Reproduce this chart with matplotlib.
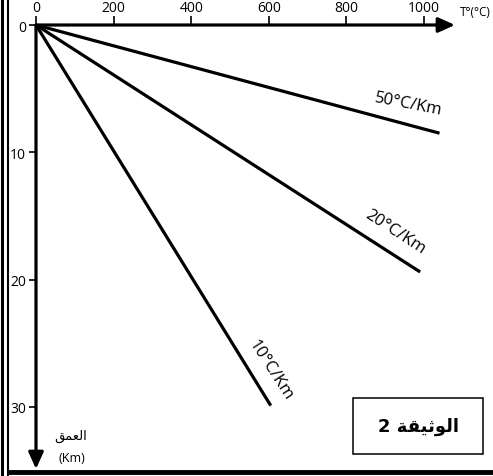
import matplotlib
matplotlib.use("Agg")
import matplotlib.pyplot as plt
from matplotlib.lines import Line2D
from matplotlib.patches import Rectangle

W, H = 493, 477
DPI = 100

# geothermal gradient lines: label, end temperature (°C), end depth (km)
gradients = ["50°C/Km", "20°C/Km", "10°C/Km"]
end_temp = [1040, 990, 605]
end_depth = [8.5, 19.4, 29.9]

# label placement (temperature, depth, rotation)
label_temp = [960, 925, 605]
label_depth = [6.2, 16.2, 27.1]
label_rot = [-11, -33, -57]

x_ticks = [0, 200, 400, 600, 800, 1000]
y_ticks = [0, 10, 20, 30]

x_title = "T°(°C)"
# Arabic written in presentation forms, visual order
y_title = "\uFED6\uFEE4\uFECC\uFEDF\uFE8D"
doc_title = "2 \uFE94\uFED8\uFEF4\uFE9B\uFEEE\uFEDF\uFE8D"

FONT = ["Open Sans", "DejaVu Sans"]
LW = 2.3

# pixel geometry of the plotting area
X0, Y0 = 36, 26          # origin
X_END, Y_END = 455, 470  # arrow tips
PX_PER_C = 0.388
PX_PER_KM = 12.73

xmax = (X_END - X0) / PX_PER_C
ymax = (Y_END - Y0) / PX_PER_KM

fig = plt.figure(figsize=(W / DPI, H / DPI), dpi=DPI)
ax = fig.add_axes([X0 / W, 1 - Y_END / H, (X_END - X0) / W, (Y_END - Y0) / H])
ax.set_xlim(0, xmax)
ax.set_ylim(ymax, 0)
ax.patch.set_alpha(0)
for s in ax.spines.values():
    s.set_visible(False)

# axes drawn as arrows
arrow = dict(arrowstyle="-|>,head_length=1.0,head_width=0.45", lw=LW, color="black",
             shrinkA=0, shrinkB=0)
ax.annotate("", xy=(xmax, 0), xytext=(0, 0), arrowprops=arrow, annotation_clip=False)
ax.annotate("", xy=(0, ymax), xytext=(0, 0), arrowprops=arrow, annotation_clip=False)

ax.xaxis.tick_top()
ax.set_xticks(x_ticks)
ax.set_xticklabels([str(v) for v in x_ticks], fontsize=10, family=FONT)
ax.set_yticks(y_ticks)
ax.set_yticklabels([str(v) for v in y_ticks], fontsize=10, family=FONT)
ax.tick_params(axis="x", direction="out", length=6.5, width=1.2, pad=1)
ax.tick_params(axis="y", direction="out", length=5, width=1.2, pad=2)

for lab, t, d, lt, ld, rot in zip(gradients, end_temp, end_depth,
                                  label_temp, label_depth, label_rot):
    ax.plot([0, t], [0, d], color="black", lw=LW, solid_capstyle="butt", clip_on=False)
    ax.text(lt, ld, lab, rotation=rot, rotation_mode="anchor", ha="center", va="center",
            fontsize=12, family=FONT)

fig.text(475 / W, 1 - 13 / H, x_title, ha="center", va="center", fontsize=8.5, family=FONT)
fig.text(71 / W, 1 - 436 / H, y_title, ha="center", va="center", fontsize=9.5,
         family=["DejaVu Sans"])
fig.text(72 / W, 1 - 459 / H, "(Km)", ha="center", va="center", fontsize=9, family=FONT)

# document box
fig.add_artist(Rectangle((353 / W, 1 - 455 / H), 130 / W, 56 / H, transform=fig.transFigure,
                         fill=False, edgecolor="black", lw=1.1))
fig.text(418 / W, 1 - 427 / H, doc_title, ha="center", va="center", fontsize=13,
         fontweight="bold", family=["DejaVu Sans"])

# page frame
fig.add_artist(Line2D([1.5 / W, 1.5 / W], [0, 1], transform=fig.transFigure,
                      color="black", lw=2.2))
fig.add_artist(Line2D([8 / W, 8 / W], [1 - 476 / H, 1], transform=fig.transFigure,
                      color="black", lw=1.5))
fig.add_artist(Line2D([7.5 / W, 1], [1 - 473 / H, 1 - 473 / H], transform=fig.transFigure,
                      color="black", lw=3.5, solid_capstyle="butt"))

fig.savefig("out.png", dpi=DPI)
